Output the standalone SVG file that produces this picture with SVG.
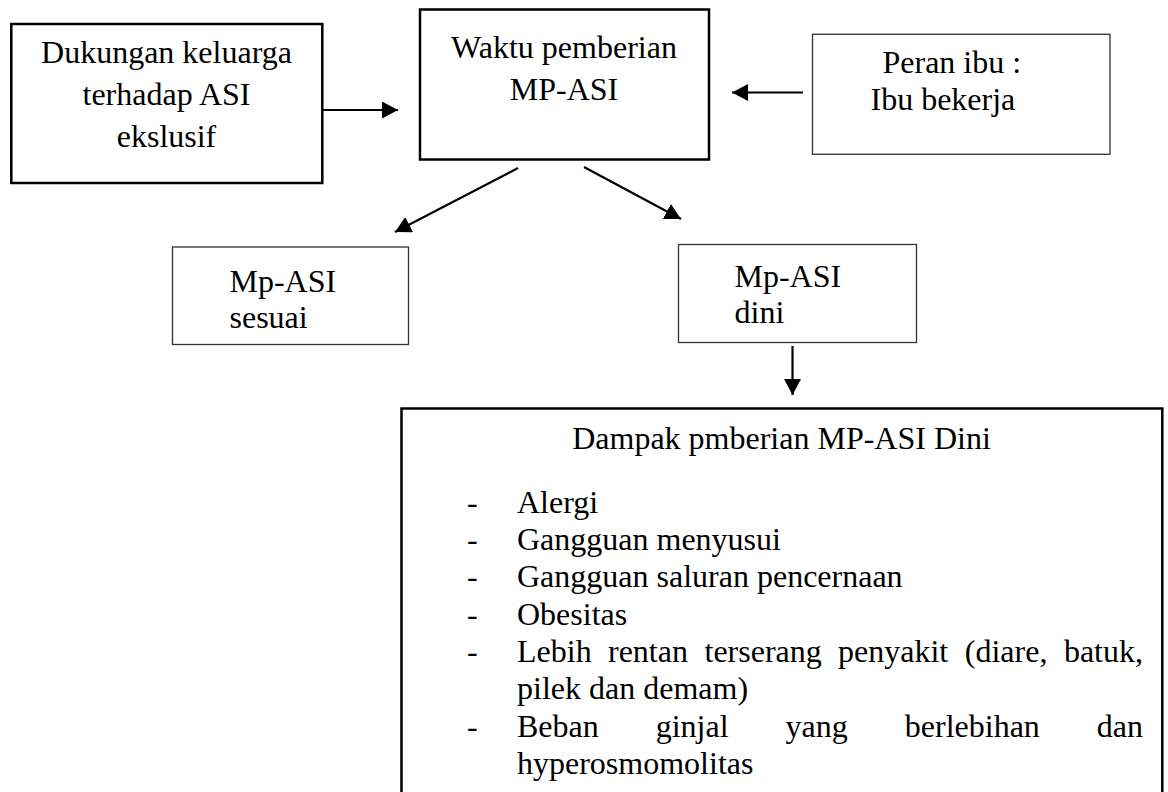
<svg xmlns="http://www.w3.org/2000/svg" width="1168" height="792" viewBox="0 0 1168 792">
<style>
text{font-family:"Liberation Serif","Times New Roman",serif;font-size:32px;fill:#000}
.thick{fill:#fff;stroke:#000;stroke-width:2.5}
.thin{fill:#fff;stroke:#333;stroke-width:1.3}
.conn{stroke:#000;stroke-width:2.2;fill:none;marker-end:url(#ah)}
.mid{text-anchor:middle}
.end{text-anchor:end}
</style>
<defs>
<marker id="ah" markerUnits="userSpaceOnUse" markerWidth="17" markerHeight="17" refX="16" refY="8.5" orient="auto">
<path d="M0,0 L16,8.5 L0,17 z" fill="#000"/>
</marker>
</defs>
<rect width="1168" height="792" fill="#fff"/>
<g id="connectors">
<line class="conn" x1="323" y1="110" x2="398" y2="110"/>
<line class="conn" x1="803" y1="92.5" x2="732" y2="92.5"/>
<line class="conn" x1="518" y1="168" x2="395" y2="232"/>
<line class="conn" x1="584" y1="167" x2="681" y2="219"/>
<line class="conn" x1="792.5" y1="346" x2="792.5" y2="395"/>
</g>
<g id="dukungan">
<rect class="thick" x="11.3" y="24" width="311" height="159"/>
<text class="mid" x="166.5" y="63">Dukungan keluarga</text>
<text class="mid" x="166.5" y="105">terhadap ASI</text>
<text class="mid" x="166.5" y="147">ekslusif</text>
</g>
<g id="waktu">
<rect class="thick" x="420" y="9.5" width="289" height="150"/>
<text class="mid" x="564" y="58">Waktu pemberian</text>
<text class="mid" x="564" y="100">MP-ASI</text>
</g>
<g id="peran">
<rect class="thin" x="812.5" y="34.3" width="297.5" height="120"/>
<text x="882.5" y="73">Peran ibu :</text>
<text x="870.5" y="110">Ibu bekerja</text>
</g>
<g id="sesuai">
<rect class="thin" x="172.5" y="247" width="236" height="97.5"/>
<text x="229.5" y="292">Mp-ASI</text>
<text x="229.5" y="328">sesuai</text>
</g>
<g id="dini">
<rect class="thin" x="678.5" y="244.5" width="238" height="98"/>
<text x="734.5" y="287">Mp-ASI</text>
<text x="734.5" y="323">dini</text>
</g>
<g id="dampak">
<rect class="thick" x="401.5" y="408.5" width="760.8" height="400"/>
<text class="mid" x="781.5" y="449">Dampak pmberian MP-ASI Dini</text>
<text x="467" y="513">-</text><text x="517" y="513">Alergi</text>
<text x="467" y="550">-</text><text x="517" y="550">Gangguan menyusui</text>
<text x="467" y="587">-</text><text x="517" y="587">Gangguan saluran pencernaan</text>
<text x="467" y="625">-</text><text x="517" y="625">Obesitas</text>
<text x="467" y="662">-</text>
<text y="662"><tspan x="517">Lebih</tspan><tspan x="608">rentan</tspan><tspan x="704.5">terserang</tspan><tspan x="838">penyakit</tspan><tspan x="964.8">(diare,</tspan></text>
<text class="end" x="1143" y="662">batuk,</text>
<text x="517" y="699">pilek dan demam)</text>
<text x="467" y="737">-</text>
<text y="737"><tspan x="517">Beban</tspan><tspan x="655.7">ginjal</tspan><tspan x="785.6">yang</tspan><tspan x="904.8">berlebihan</tspan></text>
<text class="end" x="1143" y="737">dan</text>
<text x="517" y="774">hyperosmomolitas</text>
</g>
</svg>
